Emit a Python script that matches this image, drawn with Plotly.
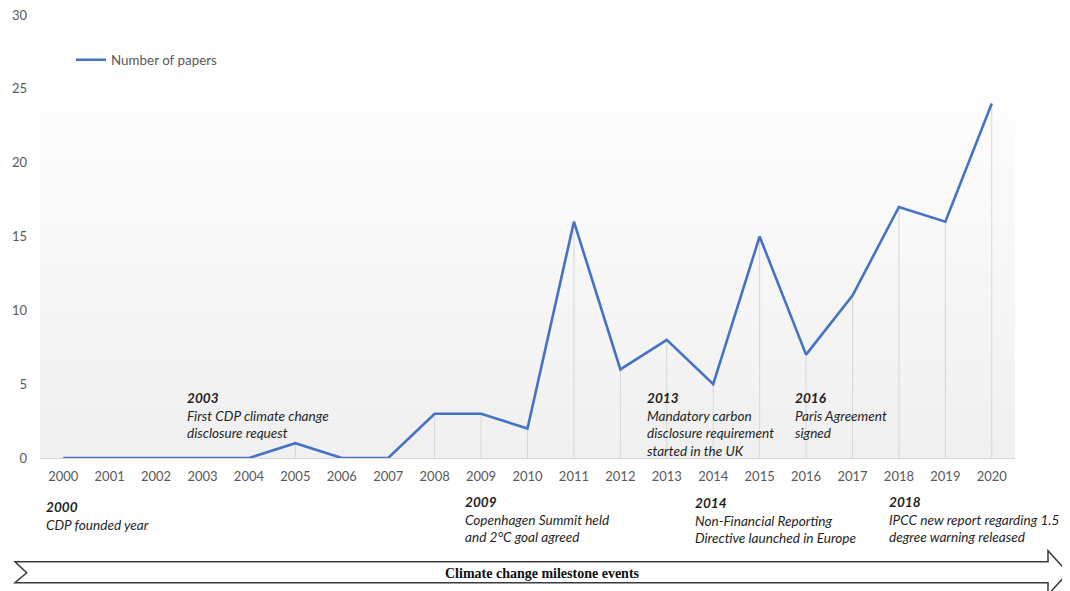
import plotly.graph_objects as go

years = [str(y) for y in range(2000, 2021)]
papers = [0, 0, 0, 0, 0, 1, 0, 0, 3, 3, 2, 16, 6, 8, 5, 15, 7, 11, 17, 16, 24]
y_ticks = [0, 5, 10, 15, 20, 25, 30]

events_above = [
    ("2003", ["First CDP climate change", "disclosure request"]),
    ("2013", ["Mandatory carbon", "disclosure requirement", "started in the UK"]),
    ("2016", ["Paris Agreement", "signed"]),
]
events_below = [
    ("2000", ["CDP founded year"]),
    ("2009", ["Copenhagen Summit held", "and 2°C goal agreed"]),
    ("2014", ["Non-Financial Reporting", "Directive launched in Europe"]),
    ("2018", ["IPCC new report regarding 1.5", "degree warning released"]),
]
# page-pixel positions (top-left of each text block)
above_px = [(185, 388), (645, 388), (793, 388)]
below_px = [(44, 497), (463, 492), (693, 493), (887, 492)]

OFF = 8  # default body margin of the page
W, H = 1070 - OFF, 591 - OFF
L, T = 40 - OFF, 15 - OFF
R = W - (1015 - OFF)
B = H - (458 - OFF)
PW, PH = W - L - R, H - T - B


def px(x):
    return (x - OFF - L) / PW


def py(y):
    return (H - B - (y - OFF)) / PH


FONT = "Lato"

# drop lines from each point to the axis
dx, dy = [], []
for yr, v in zip(years, papers):
    dx += [yr, yr, None]
    dy += [0, v, None]

fig = go.Figure()
fig.add_trace(go.Scatter(x=dx, y=dy, mode="lines", line=dict(color="#d6d6d6", width=1),
                         hoverinfo="skip", showlegend=False))
fig.add_trace(go.Scatter(x=years, y=papers, mode="lines", name="Number of papers",
                         line=dict(color="#4472C4", width=2.6)))

shapes = []
# gradient background for plot area (bands)
n = 40
top_val = 26.5
for i in range(n):
    y0 = top_val * i / n
    y1 = top_val * (i + 1) / n
    t = i / (n - 1)
    c = int(round(240 + (254 - 240) * t))
    shapes.append(dict(type="rect", xref="paper", yref="y", x0=0, x1=1, y0=y0, y1=y1,
                       fillcolor=f"rgb({c},{c},{c})", line=dict(width=0), layer="below"))

# milestone arrow
pts = [(15, 561.7), (1048, 561.7), (1048, 550.7), (1068, 572.7), (1048, 594.7),
       (1048, 582.7), (15, 582.7), (26.7, 572.7)]
path = "M " + " L ".join(f"{px(x):.5f},{py(y):.5f}" for x, y in pts) + " Z"
shapes.append(dict(type="path", xref="paper", yref="paper", path=path,
                   fillcolor="white", line=dict(color="#3a3a3a", width=1.5), layer="above"))

annotations = []
for (yr, lines), (x, y) in zip(events_above + events_below, above_px + below_px):
    text = f"<b><i>{yr}</i></b><br>" + "<br>".join(f"<i>{s}</i>" for s in lines)
    annotations.append(dict(x=px(x), y=py(y), xref="paper", yref="paper", text=text,
                            showarrow=False, xanchor="left", yanchor="top", align="left",
                            font=dict(family=FONT, size=13.6, color="#1f1f1f")))
annotations.append(dict(x=px(542), y=py(573), xref="paper", yref="paper",
                        text="<b>Climate change milestone events</b>", showarrow=False,
                        xanchor="center", yanchor="middle",
                        font=dict(family="Liberation Serif", size=14, color="#111")))

fig.update_layout(
    width=W, height=H, margin=dict(l=L, r=R, t=T, b=B, autoexpand=False),
    paper_bgcolor="white", plot_bgcolor="white",
    shapes=shapes, annotations=annotations,
    showlegend=True,
    legend=dict(x=px(71), y=py(60), xanchor="left", yanchor="middle", bgcolor="rgba(0,0,0,0)",
                font=dict(family=FONT, size=13.4, color="#595959"), itemwidth=30),
    xaxis=dict(type="category", range=[-0.5, 20.5], showgrid=False, showline=True,
               linecolor="#d9d9d9", linewidth=1, ticks="", zeroline=False, automargin=False,
               tickfont=dict(family=FONT, size=13, color="#595959"), ticklabelstandoff=6),
    yaxis=dict(range=[0, 30], tickvals=y_ticks, showgrid=False, showline=False,
               zeroline=False, ticks="", ticklabeloverflow="allow", automargin=False,
               tickfont=dict(family=FONT, size=13, color="#595959"), ticklabelstandoff=12),
    font=dict(family=FONT),
)

fig.write_html("out.html")
